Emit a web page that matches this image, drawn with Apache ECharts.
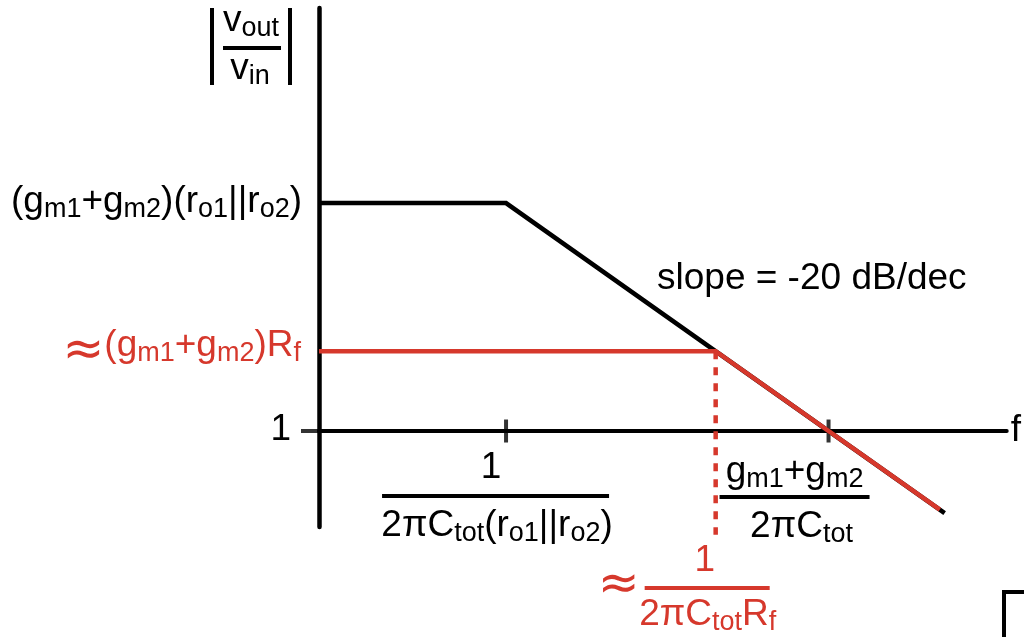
<!DOCTYPE html>
<html>
<head>
<meta charset="utf-8">
<script src="https://cdn.jsdelivr.net/npm/echarts@6/dist/echarts.min.js"></script>
<style>
  html, body { margin: 0; padding: 0; background: #fff; }
  #chart { width: 1024px; height: 637px; }
</style>
</head>
<body>
<div id="chart"></div>
<script>
// Asymptotic Bode magnitude sketch. Both axes are in decades:
// x = log10(f), y = log10(|vout/vin|).
const openLoopGain = 2.0;     // (gm1+gm2)(ro1||ro2)
const closedLoopGain = 0.7;   // ≈ (gm1+gm2)Rf
const openLoopPole = 1.16;    // 1 / (2π Ctot (ro1||ro2))
const closedLoopPole = 2.46;  // ≈ 1 / (2π Ctot Rf)
const unityGainFreq = 3.16;   // (gm1+gm2) / (2π Ctot)

// Asymptote corner points [log10 f, log10 gain]
const openLoopCurve = [[0, 2.0], [1.16, 2.0], [3.88, -0.72]];
const closedLoopCurve = [[0, 0.7], [2.46, 0.7], [3.85, -0.69]];
const closedPoleGuide = [[2.46, 0.7], [2.46, -0.91]];
const freqTicks = [1.16, 3.16];
const gainTicks = [0];

const X_RANGE = [0, 4.265];
const Y_RANGE = [-0.842, 3.711];

const BLACK = '#000000';
const RED = '#d6382c';
const FONT = "'Liberation Sans', Arial, Helvetica, sans-serif";

const rich = (color) => ({
  n: { fontSize: 37, lineHeight: 40, verticalAlign: 'top', fontFamily: FONT, fill: color, color: color },
  s: { fontSize: 27, lineHeight: 25, verticalAlign: 'bottom', fontFamily: FONT, fill: color, color: color },
  a: { fontSize: 50, lineHeight: 40, verticalAlign: 'top', fontFamily: "'DejaVu Sans', sans-serif",
       fill: color, color: color }
});

const chart = echarts.init(document.getElementById('chart'), null, { renderer: 'canvas' });

const option = {
  animation: false,
  backgroundColor: '#ffffff',
  grid: { left: 319, right: 14, top: 8, bottom: 110, containLabel: false },
  xAxis: {
    type: 'value', min: X_RANGE[0], max: X_RANGE[1],
    name: 'f', nameLocation: 'end', nameGap: 4,
    nameTextStyle: { fontSize: 37, fontFamily: FONT, color: BLACK, verticalAlign: 'middle', padding: [0, 0, 4, 0] },
    axisLine: { onZero: true, lineStyle: { color: BLACK, width: 4 } },
    axisTick: { show: false }, axisLabel: { show: false }, splitLine: { show: false }
  },
  yAxis: {
    type: 'value', min: Y_RANGE[0], max: Y_RANGE[1],
    axisLine: { onZero: false, lineStyle: { color: BLACK, width: 4.5 } },
    axisTick: { show: false }, axisLabel: { show: false }, splitLine: { show: false }
  },
  series: [
    {
      name: 'freq ticks', type: 'scatter', z: 4,
      data: freqTicks.map(f => [f, 0]),
      symbol: 'rect', symbolSize: [4, 23],
      itemStyle: { color: BLACK }, silent: true
    },
    {
      name: 'gain ticks', type: 'scatter', z: 4,
      data: gainTicks.map(g => [X_RANGE[0], g]),
      symbol: 'rect', symbolSize: [18, 4], symbolOffset: [-9, 0],
      itemStyle: { color: BLACK }, silent: true
    },
    {
      name: 'open loop', type: 'line', z: 5,
      data: openLoopCurve, showSymbol: false, symbol: 'none',
      lineStyle: { color: BLACK, width: 4.5, cap: 'butt', join: 'miter' }
    },
    {
      name: 'closed pole guide', type: 'line', z: 5, clip: false,
      data: closedPoleGuide, showSymbol: false, symbol: 'none',
      lineStyle: { color: RED, width: 4.5, type: [8, 8], dashOffset: 0, cap: 'butt' }
    },
    {
      name: 'closed loop', type: 'line', z: 6,
      data: closedLoopCurve, showSymbol: false, symbol: 'none',
      lineStyle: { color: RED, width: 4.5, cap: 'butt', join: 'miter' }
    }
  ]
};

chart.setOption(option);

// Annotations, placed relative to the data they describe
const P = (x, y) => chart.convertToPixel({ gridIndex: 0 }, [x, y]);
const axisX = P(X_RANGE[0], 0)[0];
const yOpen = P(0, openLoopGain)[1];
const yClosed = P(0, closedLoopGain)[1];
const yOne = P(0, 0)[1];
const xPole1 = P(openLoopPole, 0)[0];
const xUnity = P(unityGainFreq, 0)[0];
const xPole2 = P(closedLoopPole, 0)[0];

function txt(x, y, text, color, align) {
  return {
    type: 'text', x: x, y: y, silent: true, z: 10,
    style: {
      text: text, rich: rich(color), fill: color,
      fontSize: 37, fontFamily: FONT,
      align: align || 'center', verticalAlign: 'middle'
    }
  };
}
function bar(x1, x2, y, color, w) {
  return {
    type: 'line', silent: true, z: 10,
    shape: { x1: x1, y1: y, x2: x2, y2: y },
    style: { stroke: color, lineWidth: w || 3 }
  };
}
function vbar(x, y1, y2, color, w) {
  return {
    type: 'line', silent: true, z: 10,
    shape: { x1: x, y1: y1, x2: x, y2: y2 },
    style: { stroke: color, lineWidth: w || 3.5 }
  };
}

const graphics = [
  // |vout / vin|
  vbar(axisX - 107, 8, 85, BLACK, 4),
  vbar(axisX - 29, 8, 85, BLACK, 4),
  txt(axisX - 68, 22, '{n|v}{s|out}', BLACK),
  bar(axisX - 96, axisX - 38, 48, BLACK, 4),
  txt(axisX - 69, 70, '{n|v}{s|in}', BLACK),

  // gain level labels
  txt(axisX - 17, yOpen, '{n|(g}{s|m1}{n|+g}{s|m2}{n|)(r}{s|o1}{n|||r}{s|o2}{n|)}', BLACK, 'right'),
  txt(axisX - 18, yClosed - 4, '{a|≈}{n|(g}{s|m1}{n|+g}{s|m2}{n|)R}{s|f}', RED, 'right'),
  txt(axisX - 28, yOne, '{n|1}', BLACK, 'right'),

  // slope note
  txt(657, 280, '{n|slope = -20 dB/dec}', BLACK, 'left'),

  // 1 / (2π Ctot (ro1||ro2))
  txt(xPole1 - 15, yOne + 38, '{n|1}', BLACK),
  bar(xPole1 - 124, xPole1 + 103, yOne + 65, BLACK, 4),
  txt(xPole1 - 9, yOne + 96, '{n|2πC}{s|tot}{n|(r}{s|o1}{n|||r}{s|o2}{n|)}', BLACK),

  // (gm1+gm2) / (2π Ctot)
  txt(xUnity - 34, yOne + 42, '{n|g}{s|m1}{n|+g}{s|m2}', BLACK),
  bar(xUnity - 109, xUnity + 41, yOne + 66, BLACK, 4),
  txt(xUnity - 27, yOne + 97, '{n|2πC}{s|tot}', BLACK),

  // ≈ 1 / (2π Ctot Rf)
  txt(xPole2 - 97, yOne + 150, '{a|≈}', RED),
  txt(xPole2 - 11, yOne + 131, '{n|1}', RED),
  bar(xPole2 - 71, xPole2 + 54, yOne + 157, RED, 4),
  txt(xPole2 - 8, yOne + 185, '{n|2πC}{s|tot}{n|R}{s|f}', RED),

  // frame corner at lower right
  {
    type: 'polyline', silent: true, z: 10,
    shape: { points: [[1004, 640], [1004, 592], [1030, 592]] },
    style: { stroke: BLACK, lineWidth: 4, fill: null }
  }
];

chart.setOption({ graphic: { elements: graphics } });
</script>
</body>
</html>
